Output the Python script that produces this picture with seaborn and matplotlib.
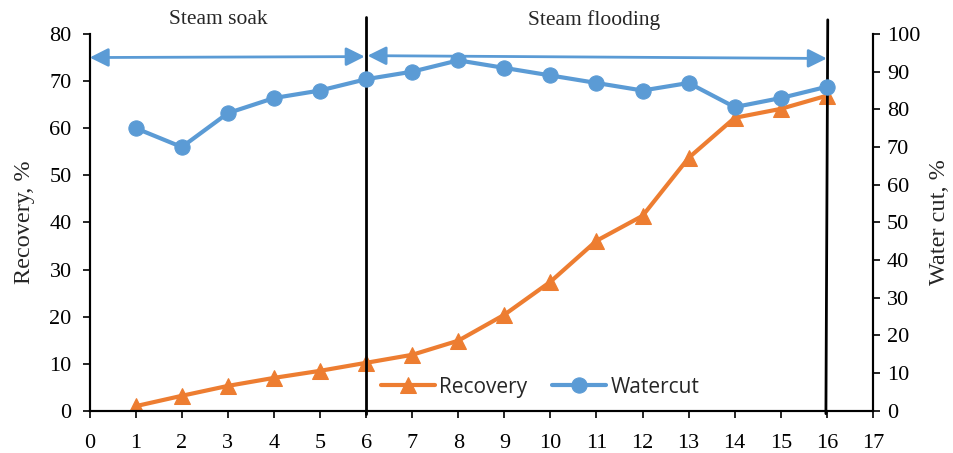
import pandas as pd
import matplotlib.pyplot as plt
import seaborn as sns

time = [1, 2, 3, 4, 5, 6, 7, 8, 9, 10, 11, 12, 13, 14, 15, 16]
recovery = [1.0, 3.2, 5.3, 7.0, 8.5, 10.2, 11.9, 14.9, 20.4, 27.4, 36.1, 41.4, 53.7, 62.2, 64.1, 66.9]
watercut = [75, 70, 79, 83, 85, 88, 90, 93, 91, 89, 87, 85, 87, 80.6, 83, 86]

df = pd.DataFrame({"time": time, "Recovery": recovery, "Watercut": watercut})

sns.set_style("white")
plt.rcParams["font.family"] = ["Liberation Serif", "DejaVu Serif"]

orange = "#ED7D31"
blue = "#5B9BD5"

fig, ax = plt.subplots(figsize=(9.54, 4.53), dpi=100)
fig.subplots_adjust(left=0.094, right=0.915, bottom=0.093, top=0.925)
ax2 = ax.twinx()

sns.lineplot(data=df, x="time", y="Recovery", ax=ax, color=orange, marker="^",
             markersize=11, markeredgecolor=orange, linewidth=3, label="Recovery", legend=False)
sns.lineplot(data=df, x="time", y="Watercut", ax=ax2, color=blue, marker="o",
             markersize=11, markeredgecolor=blue, linewidth=3, label="Watercut", legend=False)

ax.set_xlim(0, 17)
ax.set_ylim(0, 80)
ax2.set_ylim(0, 100)
ax.set_xticks(range(0, 18))
ax.set_yticks(range(0, 81, 10))
ax2.set_yticks(range(0, 101, 10))
ax.set_xlabel("")
ax.set_ylabel("Recovery, %", fontsize=17.5, labelpad=10)
ax2.set_ylabel("Water cut, %", fontsize=17.5, labelpad=6)

for a in (ax, ax2):
    a.spines["top"].set_visible(False)
    for s in ("left", "bottom", "right"):
        a.spines[s].set_color("black")
        a.spines[s].set_linewidth(1.5)
    a.tick_params(axis="both", direction="out", length=5, width=1.2, labelsize=16,
                  colors="black", pad=8)
ax.tick_params(left=True, bottom=True)
ax.tick_params(axis="x", pad=12)
ax2.tick_params(right=True, pad=5)

# stage boundaries
ax.plot([6, 6], [-0.6, 83.5], color="black", linewidth=2, clip_on=False, zorder=5)
ax.plot([16.02, 15.98], [83.0, -0.6], color="black", linewidth=2, clip_on=False, zorder=5)

# stage arrows
ax.annotate("", xy=(0, 75), xytext=(5.97, 75.2),
            arrowprops=dict(arrowstyle="<|-|>", color=blue, lw=2, mutation_scale=28,
                            shrinkA=0, shrinkB=0), annotation_clip=False)
ax.annotate("", xy=(6.03, 75.4), xytext=(16.0, 74.8),
            arrowprops=dict(arrowstyle="<|-|>", color=blue, lw=2, mutation_scale=28,
                            shrinkA=0, shrinkB=0), annotation_clip=False)

ax.text(2.8, 83.0, "Steam soak", ha="center", va="center", fontsize=15.5)
ax.text(10.95, 83.0, "Steam flooding", ha="center", va="center", fontsize=15.5)

h1, l1 = ax.get_legend_handles_labels()
h2, l2 = ax2.get_legend_handles_labels()
ax.legend(h1 + h2, l1 + l2, loc="lower center", bbox_to_anchor=(0.575, -0.015), ncol=2,
          frameon=False, prop={"family": "Open Sans", "size": 15}, handlelength=2.6,
          columnspacing=1.2, handletextpad=0.2)

plt.savefig("out.png", dpi=100)
